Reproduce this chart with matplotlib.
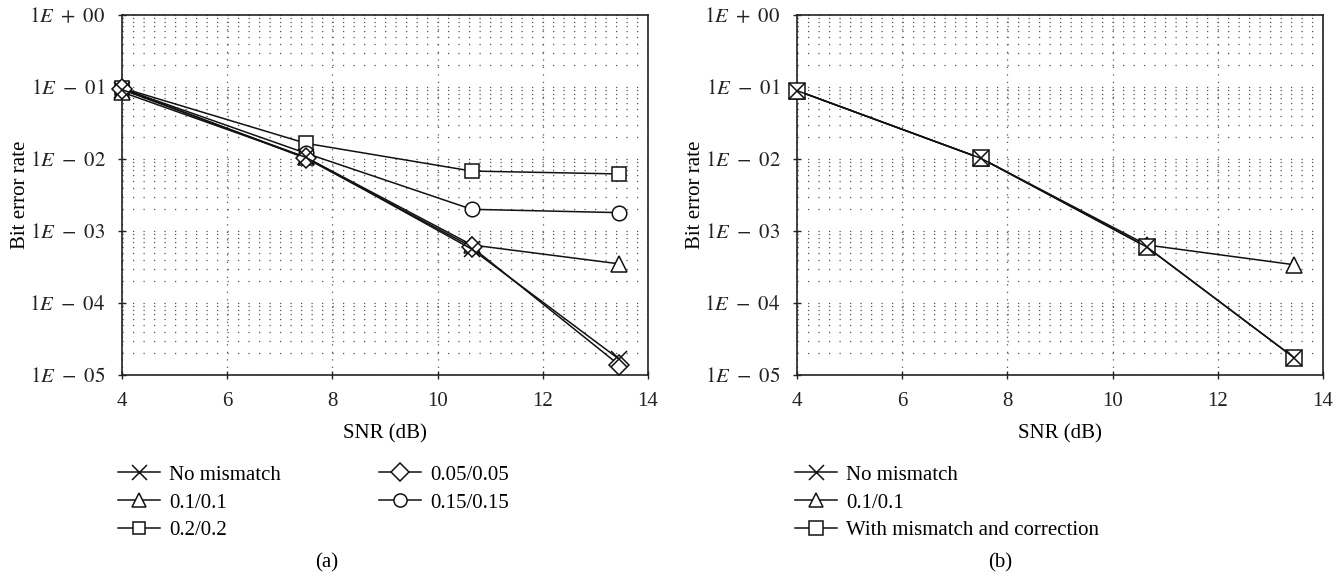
import math
import matplotlib
matplotlib.use("Agg")
import matplotlib.pyplot as plt
from matplotlib.ticker import FixedLocator, FuncFormatter, LogLocator, NullFormatter, NullLocator

plt.rcParams['font.family'] = ['Liberation Serif', 'DejaVu Serif']
plt.rcParams['mathtext.fontset'] = 'stix'

snr = [4, 7.5, 10.65, 13.45]

# Panel (a)
a_no_mismatch = [0.092, 0.0105, 0.00056, 1.66e-5]
a_01 = [0.085, 0.0105, 0.00064, 0.00035]
a_02 = [0.097, 0.0165, 0.0068, 0.0062]
a_005 = [0.095, 0.0102, 0.00060, 1.38e-5]
a_015 = [0.095, 0.0120, 0.0020, 0.0018]

# Panel (b)
b_no_mismatch = [0.089, 0.0102, 0.00060, 1.74e-5]
b_01 = [0.089, 0.0102, 0.00064, 0.00034]
b_corr = [0.089, 0.0102, 0.00060, 1.74e-5]

labels_a = ["No mismatch", "0.1/0.1", "0.2/0.2", "0.05/0.05", "0.15/0.15"]
labels_b = ["No mismatch", "0.1/0.1", "With mismatch and correction"]
xticks = [4, 6, 8, 10, 12, 14]
ydecades = [1e-5, 1e-4, 1e-3, 1e-2, 1e-1, 1e0]

W, H = 1344, 579
fig = plt.figure(figsize=(W/100, H/100), dpi=100)

def ax_rect(l, r, t, b):
    return [l/W, 1 - b/H, (r-l)/W, (b-t)/H]

ax1 = fig.add_axes(ax_rect(122, 648, 15, 375))
ax2 = fig.add_axes(ax_rect(797, 1323, 15, 375))

def yfmt(v, pos):
    e = int(round(math.log10(v)))
    sign = '+' if e >= 0 else '-'
    return r"$1E\ %s\ %02d$" % (sign, abs(e))

DOT = (0, (1, 7.4))

def style(ax):
    ax.set_yscale('log')
    ax.set_xlim(4, 14)
    ax.set_ylim(1e-5, 1)
    ax.xaxis.set_major_locator(FixedLocator(xticks))
    ax.xaxis.set_minor_locator(NullLocator())
    ax.yaxis.set_major_locator(FixedLocator(ydecades))
    ax.yaxis.set_major_formatter(FuncFormatter(yfmt))
    ax.yaxis.set_minor_locator(LogLocator(base=10, subs=range(2, 10), numticks=20))
    ax.yaxis.set_minor_formatter(NullFormatter())
    ax.grid(True, which='major', axis='x', linestyle=(0, (1, 5)), color='#555555', linewidth=0.9)
    ax.grid(True, which='both', axis='y', linestyle=DOT, color='#555555', linewidth=0.9)
    ax.tick_params(axis='both', which='minor', length=0)
    ax.tick_params(axis='both', which='major', direction='inout', length=6, width=1,
                   labelsize=15, colors='#222222')
    ax.tick_params(axis='x', which='major', pad=9)
    ax.tick_params(axis='y', which='major', pad=9)
    for s in ['left', 'bottom', 'right', 'top']:
        ax.spines[s].set_linewidth(1.2)
        ax.spines[s].set_color('#222222')
        ax.spines[s].set_zorder(5)
    ax.set_xlabel("SNR (dB)", fontsize=15, labelpad=10)
    ax.set_ylabel("Bit error rate", fontsize=15)
    ax.yaxis.set_label_coords(-0.175, 0.5)

mk = dict(color='#111111', linewidth=1.1, markerfacecolor='white', markeredgecolor='#111111',
          markeredgewidth=1.1, clip_on=False, zorder=6)

style(ax1)
h_a = {}
h_a["0.2/0.2"], = ax1.plot(snr, a_02, marker='s', markersize=10, **mk)
h_a["0.15/0.15"], = ax1.plot(snr, a_015, marker='o', markersize=10.5, **mk)
h_a["0.1/0.1"], = ax1.plot(snr, a_01, marker='^', markersize=11.5, **mk)
h_a["0.05/0.05"], = ax1.plot(snr, a_005, marker='D', markersize=10, **mk)
h_a["No mismatch"], = ax1.plot(snr, a_no_mismatch, marker='x', markersize=12, **mk)

style(ax2)
h_b = {}
h_b["0.1/0.1"], = ax2.plot(snr, b_01, marker='^', markersize=11.5, **mk)
h_b["With mismatch and correction"], = ax2.plot(snr, b_corr, marker='s', markersize=11, **mk)
h_b["No mismatch"], = ax2.plot(snr, b_no_mismatch, marker='x', markersize=12, **mk)

leg_kw = dict(frameon=False, fontsize=15, handlelength=2.0, handletextpad=0.45,
              labelspacing=0.4, borderaxespad=0, borderpad=0, markerscale=0.9)

ax1.legend([h_a[l] for l in labels_a], labels_a, ncol=2, columnspacing=4.7,
           loc='upper left', bbox_to_anchor=(118/W, 1 - 465/H),
           bbox_transform=fig.transFigure, **leg_kw)
ax2.legend([h_b[l] for l in labels_b], labels_b, ncol=1,
           loc='upper left', bbox_to_anchor=(795/W, 1 - 465/H),
           bbox_transform=fig.transFigure, **leg_kw)

fig.text(327/W, 1 - 563/H, "(a)", ha='center', va='center', fontsize=15)
fig.text(1000/W, 1 - 563/H, "(b)", ha='center', va='center', fontsize=15)

fig.savefig("out.png", dpi=100)
